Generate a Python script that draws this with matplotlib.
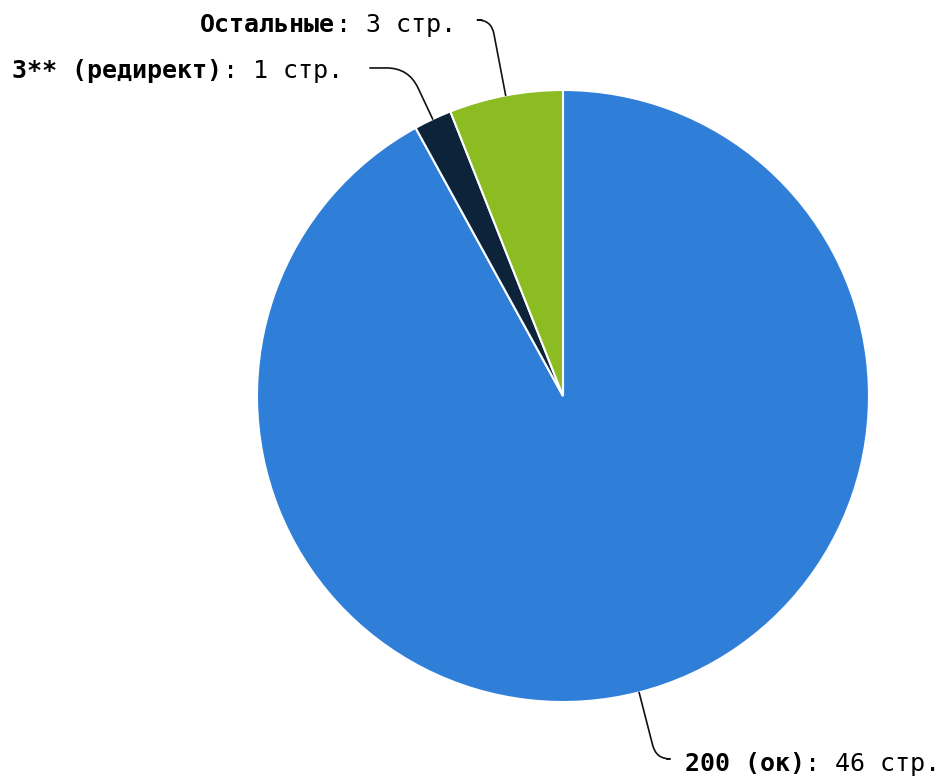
import matplotlib
matplotlib.use("Agg")
import matplotlib.pyplot as plt
import numpy as np

labels = ["200 (ок)", "3** (редирект)", "Остальные"]
values = [46, 1, 3]
unit = "стр."
colors = ["#2F7ED8", "#0D233A", "#8BBC21"]

# layout (data units, radius = 1)
label_pos = [(0.399, -1.225), (-1.801, 1.039), (-1.186, 1.190)]
conn_end = [(0.340, -1.186), (-0.631, 1.072), (-0.265, 1.229)]
conn_rad = [14, 22, 14]

W, H = 941, 778
fig = plt.figure(figsize=(W / 100, H / 100), dpi=100)
cx, cy, R = 563, 396, 306
ax = fig.add_axes([(cx - R) / W, (H - cy - R) / H, 2 * R / W, 2 * R / H])

wedges, _ = ax.pie(values, colors=colors, startangle=90, counterclock=False,
                   wedgeprops=dict(edgecolor="white", linewidth=1.5))
ax.set_xlim(-1, 1)
ax.set_ylim(-1, 1)
ax.set_aspect("equal")
ax.axis("off")

fs = 18.0
cw = 0.602 * fs  # monospace advance in points
font = "DejaVu Sans Mono"

for w, lab, v, (lx, ly), (ex, ey), rr in zip(wedges, labels, values, label_pos, conn_end, conn_rad):
    ang = (w.theta1 + w.theta2) / 2
    px, py = np.cos(np.radians(ang)), np.sin(np.radians(ang))
    ax.annotate("", xy=(px * 1.0, py * 1.0), xytext=(ex, ey),
                arrowprops=dict(arrowstyle="-", color="#111111", lw=1.2,
                                shrinkA=0, shrinkB=0,
                                connectionstyle=f"angle,angleA=0,angleB={ang},rad={rr}"),
                annotation_clip=False)
    ax.annotate(lab, xy=(lx, ly), xycoords="data", ha="left", va="baseline",
                fontsize=fs, fontweight="bold", family=font, color="#000000",
                annotation_clip=False)
    ax.annotate(f": {v} {unit}", xy=(lx, ly), xycoords="data",
                xytext=(len(lab) * cw, 0), textcoords="offset points",
                ha="left", va="baseline", fontsize=fs, family=font,
                color="#000000", annotation_clip=False)

fig.savefig("out.png", dpi=100)
